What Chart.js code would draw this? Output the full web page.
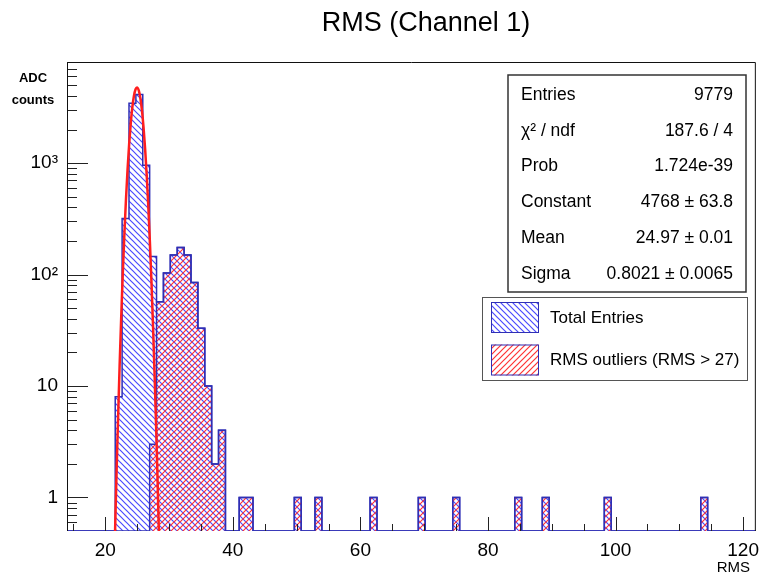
<!DOCTYPE html>
<html>
<head>
<meta charset="utf-8">
<script src="https://cdn.jsdelivr.net/npm/chart.js@4"></script>
<style>
  html, body { margin: 0; padding: 0; background: #fff; }
  canvas { display: block; }
</style>
</head>
<body>
<canvas id="rmsChart" width="767" height="577"></canvas>
<script>
// binning of the histogram: 100 bins from 14 to 122
const xMin = 14;
const xMax = 122;
const nBins = 100;
const yMin = 0.5;
const yMax = 8070;

// total entries (bin index -> counts, empty bins left out)
const totalBins   = [7, 8, 9, 10, 11, 12, 13, 14, 15, 16, 17, 18, 19, 20, 21, 22, 25, 26, 33, 36, 44, 51, 56, 65, 69, 78, 92];
const totalCounts = [8, 319, 3450, 4120, 957, 145, 57, 103, 150, 175, 150, 85, 33, 10, 2, 4, 1, 1, 1, 1, 1, 1, 1, 1, 1, 1, 1];

// RMS outliers (RMS > 27)
const outlierBins   = [12, 13, 14, 15, 16, 17, 18, 19, 20, 21, 22, 25, 26, 33, 36, 44, 51, 56, 65, 69, 78, 92];
const outlierCounts = [3, 57, 103, 150, 175, 150, 85, 33, 10, 2, 4, 1, 1, 1, 1, 1, 1, 1, 1, 1, 1, 1];

// gaussian fit curve
const fitX = [21.4, 21.6, 21.8, 22.0, 22.25, 22.5, 22.75, 23.0, 23.25, 23.5, 23.75, 24.0, 24.25, 24.5, 24.75, 24.97,
              25.25, 25.5, 25.75, 26.0, 26.25, 26.5, 26.75, 27.0, 27.25, 27.5, 27.75, 28.0, 28.2, 28.4, 28.6];
const fitY = [0.24, 0.70, 1.94, 5.0, 15.2, 41.6, 103.6, 234, 479, 889, 1499, 2295, 3187, 4016, 4592, 4768,
              4486, 3833, 2972, 2091, 1335, 773, 407, 194, 83.9, 33, 11.7, 3.8, 1.44, 0.51, 0.17];

// axis ticks
const xTicks = [15, 20, 25, 30, 35, 40, 45, 50, 55, 60, 65, 70, 75, 80, 85, 90, 95, 100, 105, 110, 115, 120];
const xLabels = [20, 40, 60, 80, 100, 120];
const yDecades = [1, 10, 100, 1000];
const yDecadeLabels = ['1', '10', '10²', '10³'];
const yMantissas = [2, 3, 4, 5, 6, 7, 8, 9];

// stats box
const statsNames  = ['Entries', 'χ² / ndf', 'Prob', 'Constant', 'Mean', 'Sigma'];
const statsValues = ['9779', '187.6 / 4', '1.724e-39', '4768 ± 63.8', '24.97 ± 0.01', '0.8021 ± 0.0065'];

const legendLabels = ['Total Entries', 'RMS outliers (RMS > 27)'];

const FONT = '"Liberation Sans", Arial, Helvetica, sans-serif';
const BLUE_LINE = '#2f2fb5';
const BLUE_HATCH = '#4a4aff';
const RED_HATCH = '#ff3333';
const RED_FIT = '#ff1e1e';

// minor ticks of the log axis
const yMinorTicks = [0.6, 0.7, 0.8, 0.9];
yDecades.forEach(d => yMantissas.forEach(m => { if (d * m <= yMax) yMinorTicks.push(d * m); }));

// hatch pattern, 'back' = \\\ , 'fwd' = ///
function hatch(color, dir) {
    const s = 6;
    const c = document.createElement('canvas');
    c.width = s;
    c.height = s;
    const g = c.getContext('2d');
    g.strokeStyle = color;
    g.lineWidth = 1.2;
    g.beginPath();
    if (dir === 'back') {
        g.moveTo(0, 0); g.lineTo(s, s);
        g.moveTo(-1, s - 1); g.lineTo(1, s + 1);
        g.moveTo(s - 1, -1); g.lineTo(s + 1, 1);
    } else {
        g.moveTo(0, s); g.lineTo(s, 0);
        g.moveTo(-1, 1); g.lineTo(1, -1);
        g.moveTo(s - 1, s + 1); g.lineTo(s + 1, s - 1);
    }
    g.stroke();
    return g.createPattern(c, 'repeat');
}

// histogram as a stepped outline (points at bin left edges)
function stepPoints(bins, counts) {
    const w = (xMax - xMin) / nBins;
    const values = new Array(nBins).fill(0);
    bins.forEach((b, i) => { values[b] = counts[i]; });
    const pts = values.map((v, i) => ({ x: xMin + i * w, y: v > 0 ? v : yMin }));
    pts.push({ x: xMax, y: yMin });
    return pts;
}

const blueHatch = hatch(BLUE_HATCH, 'back');
const redHatch = hatch(RED_HATCH, 'fwd');

const decorPlugin = {
    id: 'decor',
    afterDraw(chart) {
        const ctx = chart.ctx;
        const a = chart.chartArea;
        const xs = chart.scales.x;
        const ys = chart.scales.y;
        ctx.save();

        // tick marks (inside the frame)
        ctx.strokeStyle = '#222';
        ctx.lineWidth = 1;
        ctx.beginPath();
        xTicks.forEach(v => {
            const px = Math.round(xs.getPixelForValue(v)) + 0.5;
            const len = xLabels.includes(v) ? 14 : 7;
            ctx.moveTo(px, a.bottom);
            ctx.lineTo(px, a.bottom - len);
        });
        yDecades.forEach(v => {
            const py = Math.round(ys.getPixelForValue(v)) + 0.5;
            ctx.moveTo(a.left, py);
            ctx.lineTo(a.left + 21, py);
        });
        yMinorTicks.forEach(v => {
            const py = Math.round(ys.getPixelForValue(v)) + 0.5;
            ctx.moveTo(a.left, py);
            ctx.lineTo(a.left + 10, py);
        });
        ctx.stroke();

        // frame
        ctx.strokeStyle = '#111';
        ctx.beginPath();
        ctx.moveTo(a.left + 0.5, a.bottom);
        ctx.lineTo(a.left + 0.5, a.top + 0.5);
        ctx.lineTo(a.right - 0.5, a.top + 0.5);
        ctx.lineTo(a.right - 0.5, a.bottom);
        ctx.stroke();

        // title
        ctx.fillStyle = '#000';
        ctx.font = '27px ' + FONT;
        ctx.textAlign = 'center';
        ctx.textBaseline = 'alphabetic';
        ctx.fillText('RMS (Channel 1)', 426, 31);

        // axis titles
        ctx.font = '15px ' + FONT;
        ctx.textAlign = 'right';
        ctx.textBaseline = 'middle';
        ctx.fillText('RMS', 750, 568);
        ctx.font = 'bold 13px ' + FONT;
        ctx.textAlign = 'center';
        ctx.fillText('ADC', 33, 78);
        ctx.fillText('counts', 33, 100);

        // stats box
        ctx.fillStyle = '#fff';
        ctx.fillRect(508, 75, 238, 217);
        ctx.strokeStyle = '#333';
        ctx.lineWidth = 1.5;
        ctx.strokeRect(508, 75, 238, 217);
        ctx.fillStyle = '#000';
        ctx.font = '17.5px ' + FONT;
        statsNames.forEach((n, i) => {
            const y = 95 + i * 35.8;
            ctx.textAlign = 'left';
            ctx.fillText(n, 521, y);
            ctx.textAlign = 'right';
            ctx.fillText(statsValues[i], 733, y);
        });

        // legend box
        ctx.fillStyle = '#fff';
        ctx.fillRect(482, 297, 266, 84);
        ctx.strokeStyle = '#555';
        ctx.lineWidth = 1;
        ctx.strokeRect(482.5, 297.5, 265, 83);
        const swatchFill = [blueHatch, redHatch];
        legendLabels.forEach((t, i) => {
            const top = 302 + i * 42.5;
            ctx.fillStyle = swatchFill[i];
            ctx.fillRect(491, top, 48, 31);
            ctx.strokeStyle = BLUE_LINE;
            ctx.strokeRect(491.5, top + 0.5, 47, 30);
            ctx.fillStyle = '#000';
            ctx.font = '17px ' + FONT;
            ctx.textAlign = 'left';
            ctx.fillText(t, 550, top + 16);
        });
        ctx.restore();
    }
};

new Chart(document.getElementById('rmsChart').getContext('2d'), {
    type: 'line',
    data: {
        datasets: [
            {
                label: 'fit',
                data: fitX.map((x, i) => ({ x: x, y: fitY[i] })),
                borderColor: RED_FIT,
                borderWidth: 2.5,
                pointRadius: 0,
                fill: false,
                cubicInterpolationMode: 'monotone'
            },
            {
                label: legendLabels[1],
                data: stepPoints(outlierBins, outlierCounts),
                stepped: 'before',
                borderColor: BLUE_LINE,
                borderWidth: 1.5,
                backgroundColor: redHatch,
                pointRadius: 0,
                fill: 'start'
            },
            {
                label: legendLabels[0],
                data: stepPoints(totalBins, totalCounts),
                stepped: 'before',
                borderColor: BLUE_LINE,
                borderWidth: 1.5,
                backgroundColor: blueHatch,
                pointRadius: 0,
                fill: 'start'
            }
        ]
    },
    options: {
        responsive: false,
        animation: false,
        events: [],
        layout: { padding: { left: 0, top: 62, right: 3, bottom: 0 } },
        plugins: {
            legend: { display: false },
            title: { display: false },
            tooltip: { enabled: false }
        },
        scales: {
            x: {
                type: 'linear',
                min: xMin,
                max: xMax,
                grid: { display: false, drawTicks: false },
                border: { display: false },
                afterBuildTicks: s => { s.ticks = xTicks.map(v => ({ value: v })); },
                afterFit: s => { s.height = 46; },
                ticks: {
                    autoSkip: false,
                    maxRotation: 0,
                    padding: 8,
                    color: '#000',
                    font: { family: FONT, size: 19 },
                    callback: v => xLabels.includes(v) ? String(v) : ''
                }
            },
            y: {
                type: 'logarithmic',
                min: yMin,
                max: yMax,
                grid: { display: false, drawTicks: false },
                border: { display: false },
                afterBuildTicks: s => { s.ticks = yDecades.map(v => ({ value: v })); },
                afterFit: s => { s.width = 67; },
                ticks: {
                    autoSkip: false,
                    padding: 9,
                    color: '#000',
                    font: { family: FONT, size: 19 },
                    callback: v => {
                        const i = yDecades.indexOf(v);
                        return i >= 0 ? yDecadeLabels[i] : '';
                    }
                }
            }
        }
    },
    plugins: [decorPlugin]
});
</script>
</body>
</html>
